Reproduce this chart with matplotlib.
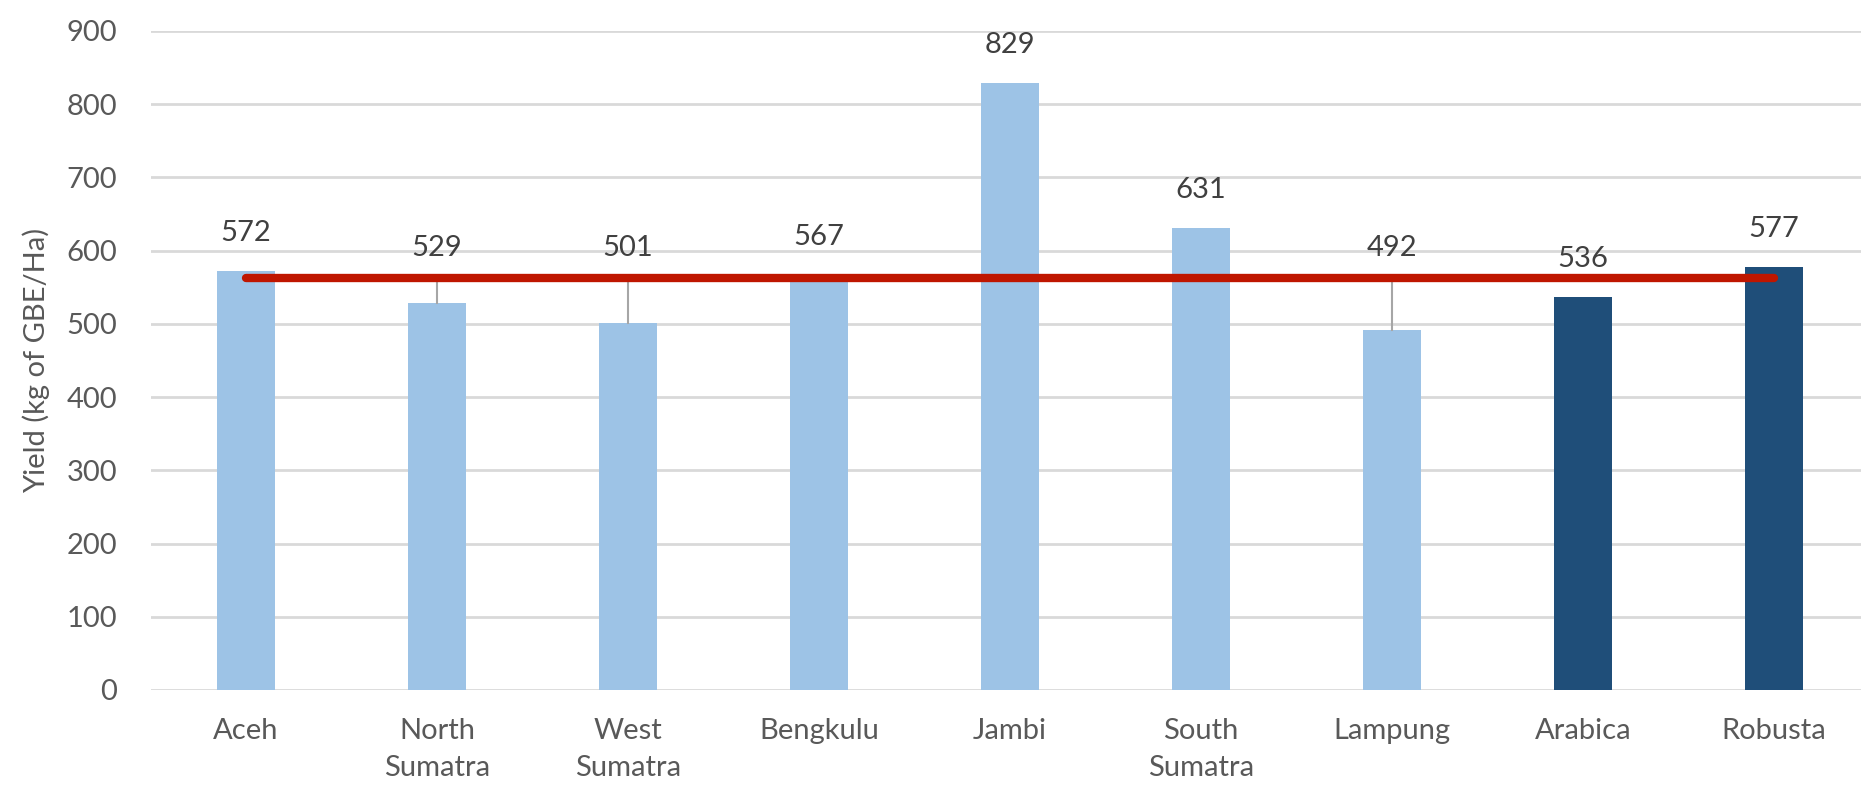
import matplotlib.pyplot as plt

# yield per province / coffee type
categories = ["Aceh", "North\nSumatra", "West\nSumatra", "Bengkulu", "Jambi",
              "South\nSumatra", "Lampung", "Arabica", "Robusta"]
yields = [572, 529, 501, 567, 829, 631, 492, 536, 577]
is_type = [False, False, False, False, False, False, False, True, True]
has_link = [False, True, True, False, False, False, True, False, False]
average = 563
yticks = [0, 100, 200, 300, 400, 500, 600, 700, 800, 900]

light = "#9DC3E6"
dark = "#1F4E79"

plt.rcParams['font.family'] = ['Lato', 'DejaVu Sans']

fig = plt.figure(figsize=(18.61, 7.93), dpi=100)
ax = fig.add_axes([0.0809, 0.1299, 0.9237, 0.8312])

x = list(range(len(categories)))
colors = [dark if t else light for t in is_type]
ax.bar(x, yields, width=0.30, color=colors, zorder=2)

# grey connectors from bar top up to the average line
for i, v in enumerate(yields):
    if has_link[i]:
        ax.plot([i, i], [v, average], color="#A6A6A6", lw=1.5, zorder=3)

ax.plot([x[0], x[-1]], [average, average], color="#BF1600", lw=6,
        solid_capstyle='round', zorder=4)

# value labels
for i, v in enumerate(yields):
    if has_link[i]:
        ax.annotate(str(v), (i, average), xytext=(0, 21.6), textcoords='offset points',
                    ha='center', va='center', fontsize=21, color="#404040")
    else:
        ax.annotate(str(v), (i, v), xytext=(0, 27.4), textcoords='offset points',
                    ha='center', va='center', fontsize=21, color="#404040")

ax.set_xlim(-0.5, len(categories) - 0.5)
ax.set_ylim(0, 900)
ax.set_yticks(yticks)
ax.set_xticks(x)
ax.set_xticklabels(categories, linespacing=1.55)
ax.yaxis.grid(True, color="#D9D9D9", lw=2, zorder=0)
ax.set_axisbelow(True)
for s in ax.spines.values():
    s.set_visible(False)
ax.tick_params(axis='both', length=0, labelsize=21, labelcolor="#595959")
ax.tick_params(axis='x', pad=20)
ax.tick_params(axis='y', pad=24)
ax.set_ylabel("Yield (kg of GBE/Ha)", fontsize=21, color="#595959", labelpad=12)

fig.savefig("out.png", dpi=100)
